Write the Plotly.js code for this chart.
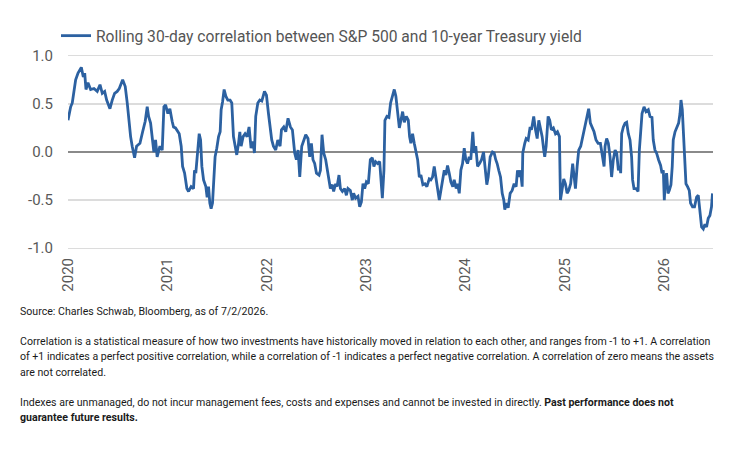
<!DOCTYPE html>
<html>
<head>
<meta charset="utf-8">
<script src="https://cdn.plot.ly/plotly-3.0.1.min.js"></script>
<style>
  html, body { margin: 0; padding: 0; background: #ffffff; }
  #chart { width: 752px; height: 456px; }
</style>
</head>
<body>
<div id="chart"></div>
<script>
// Time as fractional years (2020.0 = start of 2020)
const yearFrac = [
  2020.000, 2020.027, 2020.043, 2020.077, 2020.101, 2020.134, 2020.154, 2020.168, 2020.181, 2020.201,
  2020.228, 2020.261, 2020.294, 2020.322, 2020.345, 2020.369, 2020.389, 2020.422, 2020.445, 2020.469,
  2020.495, 2020.516, 2020.550, 2020.576, 2020.596, 2020.613, 2020.630, 2020.646, 2020.670, 2020.690,
  2020.724, 2020.751, 2020.777, 2020.797, 2020.811, 2020.831, 2020.847, 2020.864, 2020.881, 2020.897,
  2020.925, 2020.948, 2020.965, 2020.982, 2021.005, 2021.025, 2021.048, 2021.062, 2021.082, 2021.095,
  2021.119, 2021.139, 2021.153, 2021.173, 2021.196, 2021.213, 2021.239, 2021.263, 2021.273, 2021.286,
  2021.307, 2021.320, 2021.334, 2021.347, 2021.364, 2021.387, 2021.400, 2021.414, 2021.427, 2021.440,
  2021.454, 2021.464, 2021.480, 2021.497, 2021.515, 2021.531, 2021.541, 2021.555, 2021.571, 2021.588,
  2021.608, 2021.631, 2021.648, 2021.665, 2021.681, 2021.698, 2021.716, 2021.729, 2021.742, 2021.762,
  2021.782, 2021.802, 2021.822, 2021.842, 2021.862, 2021.876, 2021.889, 2021.910, 2021.930, 2021.950,
  2021.977, 2021.997, 2022.017, 2022.033, 2022.050, 2022.067, 2022.090, 2022.111, 2022.134, 2022.148,
  2022.171, 2022.191, 2022.214, 2022.238, 2022.258, 2022.281, 2022.298, 2022.315, 2022.332, 2022.352,
  2022.372, 2022.392, 2022.415, 2022.432, 2022.449, 2022.465, 2022.482, 2022.500, 2022.526, 2022.540,
  2022.556, 2022.573, 2022.593, 2022.610, 2022.626, 2022.640, 2022.660, 2022.673, 2022.693, 2022.707,
  2022.727, 2022.741, 2022.761, 2022.784, 2022.801, 2022.817, 2022.841, 2022.861, 2022.874, 2022.894,
  2022.918, 2022.935, 2022.952, 2022.968, 2022.985, 2023.002, 2023.022, 2023.042, 2023.062, 2023.078,
  2023.095, 2023.116, 2023.136, 2023.153, 2023.163, 2023.179, 2023.189, 2023.209, 2023.229, 2023.246,
  2023.263, 2023.283, 2023.299, 2023.317, 2023.334, 2023.350, 2023.367, 2023.384, 2023.404, 2023.424,
  2023.437, 2023.450, 2023.467, 2023.484, 2023.500, 2023.518, 2023.535, 2023.551, 2023.571, 2023.591,
  2023.611, 2023.635, 2023.651, 2023.668, 2023.685, 2023.701, 2023.719, 2023.736, 2023.752, 2023.769,
  2023.786, 2023.802, 2023.819, 2023.836, 2023.852, 2023.872, 2023.886, 2023.906, 2023.920, 2023.937,
  2023.953, 2023.970, 2023.987, 2024.003, 2024.020, 2024.037, 2024.053, 2024.073, 2024.087, 2024.103,
  2024.121, 2024.141, 2024.161, 2024.181, 2024.201, 2024.214, 2024.228, 2024.248, 2024.271, 2024.288,
  2024.304, 2024.318, 2024.334, 2024.352, 2024.369, 2024.385, 2024.395, 2024.412, 2024.429, 2024.449,
  2024.469, 2024.489, 2024.509, 2024.523, 2024.536, 2024.553, 2024.570, 2024.576, 2024.596, 2024.610,
  2024.630, 2024.650, 2024.663, 2024.686, 2024.704, 2024.721, 2024.737, 2024.754, 2024.771, 2024.787,
  2024.797, 2024.811, 2024.831, 2024.847, 2024.864, 2024.884, 2024.905, 2024.925, 2024.945, 2024.955,
  2024.972, 2024.988, 2025.005, 2025.022, 2025.038, 2025.058, 2025.078, 2025.092, 2025.106, 2025.123,
  2025.139, 2025.159, 2025.179, 2025.199, 2025.219, 2025.239, 2025.256, 2025.273, 2025.293, 2025.313,
  2025.334, 2025.357, 2025.374, 2025.394, 2025.404, 2025.420, 2025.437, 2025.454, 2025.470, 2025.487,
  2025.505, 2025.521, 2025.538, 2025.555, 2025.561, 2025.571, 2025.588, 2025.605, 2025.621, 2025.638,
  2025.655, 2025.671, 2025.681, 2025.695, 2025.715, 2025.736, 2025.749, 2025.762, 2025.776, 2025.796,
  2025.816, 2025.839, 2025.856, 2025.876, 2025.889, 2025.906, 2025.922, 2025.942, 2025.963, 2025.977,
  2025.990, 2026.000, 2026.010, 2026.023, 2026.037, 2026.050, 2026.067, 2026.080, 2026.090, 2026.108,
  2026.124, 2026.144, 2026.158, 2026.168, 2026.181, 2026.191, 2026.204, 2026.218, 2026.234, 2026.251,
  2026.264, 2026.284, 2026.304, 2026.325, 2026.342, 2026.359, 2026.375, 2026.392, 2026.409, 2026.425,
  2026.442, 2026.459, 2026.475, 2026.485
];

// Rolling 30-day correlation values
const corr = [
  0.33, 0.47, 0.51, 0.75, 0.82, 0.88, 0.78, 0.82, 0.65, 0.72,
  0.65, 0.66, 0.63, 0.70, 0.61, 0.63, 0.54, 0.45, 0.54, 0.61,
  0.63, 0.66, 0.75, 0.68, 0.51, 0.30, 0.16, 0.06, -0.06, 0.06,
  0.09, 0.21, 0.32, 0.47, 0.37, 0.30, 0.125, 0.00, 0.125, -0.05,
  0.06, 0.02, 0.47, 0.49, 0.40, 0.45, 0.32, 0.26, 0.25, 0.23,
  0.19, 0.06, -0.15, -0.22, -0.38, -0.41, -0.36, -0.38, -0.19, -0.22,
  0.02, 0.19, 0.125, -0.15, -0.29, -0.36, -0.47, -0.36, -0.53, -0.59,
  -0.53, -0.29, -0.05, 0.04, 0.16, 0.21, 0.44, 0.52, 0.65, 0.58,
  0.54, 0.54, 0.51, 0.16, 0.06, -0.03, 0.09, 0.21, 0.06, 0.16,
  0.19, 0.16, 0.26, 0.04, 0.11, -0.01, 0.37, 0.51, 0.54, 0.53,
  0.63, 0.59, 0.40, 0.26, 0.125, 0.06, 0.02, 0.125, 0.06, 0.23,
  0.26, 0.21, 0.35, 0.26, 0.23, -0.01, -0.08, 0.02, -0.26, 0.06,
  0.125, 0.18, 0.14, -0.05, 0.09, -0.08, -0.12, -0.22, -0.24, -0.19,
  0.18, -0.01, -0.08, -0.19, -0.33, -0.38, -0.34, -0.41, -0.33, -0.36,
  -0.24, -0.38, -0.41, -0.38, -0.45, -0.38, -0.40, -0.50, -0.43, -0.48,
  -0.46, -0.57, -0.52, -0.33, -0.38, -0.31, -0.33, -0.08, -0.06, -0.15,
  -0.10, -0.12, -0.10, -0.29, -0.48, -0.19, 0.33, 0.37, 0.36, 0.51,
  0.58, 0.65, 0.58, 0.40, 0.25, 0.33, 0.42, 0.31, 0.37, 0.33,
  0.16, 0.09, 0.19, 0.09, 0.02, -0.08, -0.26, -0.24, -0.34, -0.33,
  -0.36, -0.28, -0.29, -0.26, -0.15, -0.26, -0.41, -0.50, -0.40, -0.29,
  -0.19, -0.24, -0.14, -0.22, -0.31, -0.36, -0.29, -0.38, -0.33, -0.43,
  -0.19, -0.12, 0.04, -0.08, -0.12, -0.05, -0.08, 0.21, -0.01, 0.06,
  -0.15, -0.12, -0.08, 0.00, -0.19, -0.34, -0.26, -0.05, 0.00, -0.01,
  -0.08, -0.12, -0.19, -0.26, -0.43, -0.50, -0.60, -0.53, -0.58, -0.43,
  -0.40, -0.33, -0.36, -0.19, -0.26, -0.19, -0.36, -0.01, 0.09, 0.14,
  0.125, 0.26, 0.23, 0.37, 0.23, 0.14, 0.33, 0.23, 0.16, 0.02,
  -0.05, 0.06, 0.37, 0.33, 0.23, 0.25, 0.19, 0.21, 0.16, -0.50,
  -0.36, -0.28, -0.33, -0.43, -0.40, -0.33, -0.12, -0.26, -0.38, -0.15,
  0.02, 0.06, 0.16, 0.26, 0.37, 0.45, 0.30, 0.26, 0.21, 0.125,
  0.09, 0.09, -0.01, -0.15, 0.06, 0.14, 0.09, -0.05, -0.26, -0.08,
  0.02, -0.01, -0.19, -0.15, -0.22, 0.19, 0.26, 0.30, 0.31, 0.19,
  0.125, -0.05, -0.29, -0.38, -0.38, -0.41, 0.02, 0.26, 0.40, 0.47,
  0.42, 0.44, 0.37, 0.36, 0.125, 0.02, -0.01, -0.08, -0.14, -0.22,
  -0.19, -0.50, -0.29, -0.22, -0.43, -0.40, -0.34, -0.15, 0.125, 0.21,
  0.26, 0.30, 0.40, 0.54, 0.44, 0.23, -0.05, -0.33, -0.36, -0.40,
  -0.53, -0.57, -0.57, -0.47, -0.45, -0.64, -0.78, -0.80, -0.75, -0.78,
  -0.69, -0.66, -0.57, -0.43
];

const seriesName = "Rolling 30-day correlation between S&P 500 and 10-year Treasury yield";
const tickYears = [2020, 2021, 2022, 2023, 2024, 2025, 2026];
const tickLabels = ["2020", "2021", "2022", "2023", "2024", "2025", "2026"];
const yTicks = [-1.0, -0.5, 0.0, 0.5, 1.0];
const yTickLabels = ["-1.0", "-0.5", "0.0", "0.5", "1.0"];

const noteSource = "Source: Charles Schwab, Bloomberg, as of 7/2/2026.";
const noteCorr = [
  "Correlation is a statistical measure of how two investments have historically moved in relation to each other, and ranges from -1 to +1. A correlation",
  "of +1 indicates a perfect positive correlation, while a correlation of -1 indicates a perfect negative correlation. A correlation of zero means the assets",
  "are not correlated."
];
const noteIdx = [
  "Indexes are unmanaged, do not incur management fees, costs and expenses and cannot be invested in directly. <b>Past performance does not</b>",
  "<b>guarantee future results.</b>"
];

const lineColor = "#2c61a1";
const tickColor = "#595959";
const noteFont = { family: "Roboto, sans-serif", size: 10.6, color: "#1a1a1a" };

// plot area: left 68px, width 645px; top 51px, height 202px
const PL = 68, PW = 645, PT = 51, PH = 202;
const px = (x) => (x - PL) / PW;
const py = (y) => (PT + PH - y) / PH;

const annotations = [];
function note(text, yCenter) {
  annotations.push({
    xref: "paper", yref: "paper", x: px(18), y: py(yCenter),
    xanchor: "left", yanchor: "middle", showarrow: false, align: "left",
    text: text, font: noteFont
  });
}
note(noteSource, 311);
noteCorr.forEach((t, i) => note(t, 341 + i * 15.6));
noteIdx.forEach((t, i) => note(t, 402 + i * 15.6));

const trace = {
  type: "scatter", mode: "lines",
  x: yearFrac, y: corr, name: seriesName,
  line: { color: lineColor, width: 2.8 },
  showlegend: true
};

const layout = {
  width: 752, height: 456,
  margin: { l: PL, r: 752 - PL - PW, t: PT, b: 456 - PT - PH },
  paper_bgcolor: "#ffffff", plot_bgcolor: "#ffffff",
  font: { family: "Roboto, sans-serif", color: tickColor },
  showlegend: true,
  legend: {
    orientation: "h", x: px(56), xanchor: "left", y: py(36), yanchor: "middle",
    font: { family: "Roboto, sans-serif", size: 15.6, color: "#555555" },
    itemwidth: 30, bgcolor: "rgba(0,0,0,0)"
  },
  xaxis: {
    type: "linear", range: [2020, 2026.49],
    tickmode: "array", tickvals: tickYears, ticktext: tickLabels,
    tickangle: -90, tickfont: { size: 15, color: tickColor },
    showgrid: false, zeroline: false, showline: false, ticks: "",
    ticklabelstandoff: 1
  },
  yaxis: {
    range: [-1.05, 1.05],
    tickmode: "array", tickvals: yTicks, ticktext: yTickLabels,
    tickfont: { size: 15, color: tickColor },
    showgrid: true, gridcolor: "#dcdcdc", gridwidth: 1.3,
    zeroline: true, zerolinecolor: "#8a8a8a", zerolinewidth: 1.6,
    showline: false, ticks: "", ticklabelstandoff: 14
  },
  annotations: annotations
};

Plotly.newPlot("chart", [trace], layout, { displayModeBar: false, staticPlot: true });
</script>
</body>
</html>
